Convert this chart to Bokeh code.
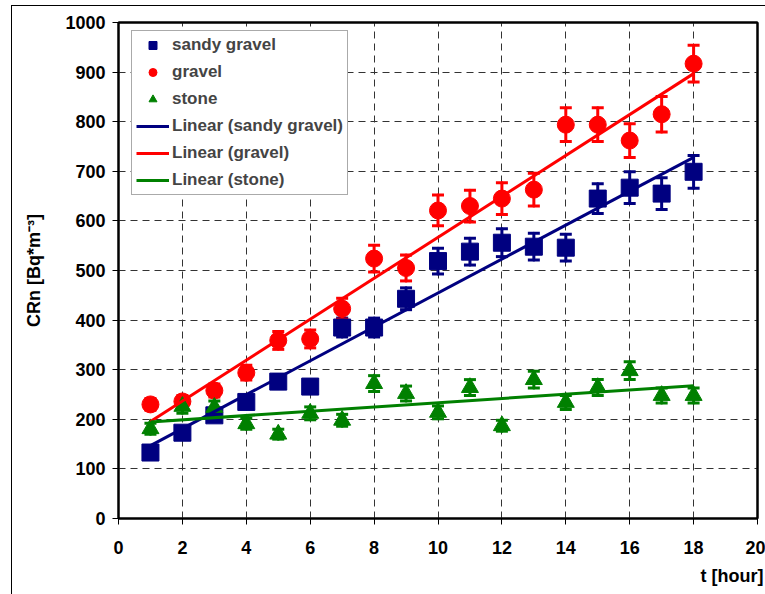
import numpy as np
from bokeh.plotting import figure
from bokeh.models import (ColumnDataSource, Whisker, TeeHead, Legend, LegendItem,
                          Title, FixedTicker, LinearAxis)
from bokeh.embed import file_html
from bokeh.resources import INLINE

# ---------------- data ----------------
hours = list(range(1, 19))
sandy_gravel = [133, 173, 208, 235, 276, 266, 385, 385, 443, 519, 538, 556, 548, 546, 645, 667, 655, 699]
sandy_err = [7, 9, 10, 12, 14, 13, 19, 19, 22, 26, 27, 28, 27, 27, 30, 32, 32, 33]
gravel = [230, 236, 258, 294, 359, 362, 423, 524, 505, 621, 630, 645, 663, 794, 794, 762, 815, 917]
gravel_err = [12, 12, 13, 15, 18, 18, 21, 27, 26, 31, 32, 32, 33, 34, 34, 34, 36, 37]
stone = [181, 226, 224, 191, 170, 212, 198, 272, 252, 214, 264, 187, 280, 234, 264, 298, 248, 248]
stone_err = [11, 14, 13, 11, 10, 13, 12, 16, 15, 13, 16, 11, 17, 14, 16, 18, 15, 15]

x_ticks = [0, 2, 4, 6, 8, 10, 12, 14, 16, 18, 20]
y_ticks = [0, 100, 200, 300, 400, 500, 600, 700, 800, 900, 1000]
series_names = ["sandy gravel", "gravel", "stone"]
colors = ["#000080", "#FF0000", "#008000"]
markers = ["square", "circle", "triangle"]
y_title = "CRn [Bq*m⁻³]"
x_title = "t [hour]"

FONT = "Liberation Sans"

p = figure(width=765, height=594, x_range=(0, 20), y_range=(0, 1000),
           output_backend="svg", toolbar_location=None,
           min_border_left=118, min_border_right=8, min_border_top=22, min_border_bottom=76)
p.background_fill_color = "white"
p.border_fill_color = None
p.outline_line_color = "black"
p.outline_line_width = 2
# outer chart-area border drawn behind the (transparent) canvas border
p.styles = {
    "background-color": "white",
    "background-image": "linear-gradient(#000,#000), linear-gradient(#000,#000)",
    "background-size": "1px 600px, 800px 1px",
    "background-position": "11px 5px, 11px 5px",
    "background-repeat": "no-repeat",
}

# axes
for ax in (p.xaxis, p.yaxis):
    ax.axis_line_width = 2
    ax.axis_line_color = "black"
    ax.major_tick_line_color = "black"
    ax.major_tick_line_width = 1
    ax.major_tick_out = 6
    ax.major_tick_in = 0
    ax.minor_tick_line_color = None
    ax.major_label_text_font = FONT
    ax.major_label_text_font_style = "bold"
    ax.major_label_text_font_size = "18px"
    ax.major_label_text_color = "black"
p.xaxis.ticker = FixedTicker(ticks=x_ticks)
p.yaxis.ticker = FixedTicker(ticks=y_ticks)
p.xaxis.major_label_standoff = 16
p.yaxis.major_label_standoff = 7
p.yaxis.axis_label = y_title
p.yaxis.axis_label_text_font = FONT
p.yaxis.axis_label_text_font_style = "bold"
p.yaxis.axis_label_text_font_size = "18px"
p.yaxis.axis_label_text_color = "black"
p.yaxis.axis_label_standoff = 18

# frame edges on the right and top
for side in ("right", "above"):
    a = LinearAxis(ticker=FixedTicker(ticks=[]), axis_line_width=2, axis_line_color="black",
                   major_tick_out=0, major_tick_in=0, minor_tick_out=0, minor_tick_in=0,
                   major_label_standoff=0)
    p.add_layout(a, side)

# x-axis title, right-aligned below
p.add_layout(Title(text=x_title, align="right", text_font=FONT, text_font_style="bold",
                   text_font_size="18px", text_color="black", offset=-6, standoff=15), "below")

# grid
p.grid.grid_line_color = "#333333"
p.grid.grid_line_dash = "7 5"
p.grid.grid_line_width = 1
p.xgrid.ticker = FixedTicker(ticks=x_ticks)
p.ygrid.ticker = FixedTicker(ticks=y_ticks)

values = [sandy_gravel, gravel, stone]
errors = [sandy_err, gravel_err, stone_err]
scatter_r = []
line_r = []
for vals, errs, col, mk in zip(values, errors, colors, markers):
    v = np.array(vals, dtype=float)
    e = np.array(errs, dtype=float)
    src = ColumnDataSource(dict(t=hours, v=vals, up=list(v + e), lo=list(v - e)))
    w = Whisker(source=src, base="t", upper="up", lower="lo",
                line_color=col, line_width=3, line_cap="round",
                upper_head=TeeHead(size=12, line_color=col, line_width=3),
                lower_head=TeeHead(size=12, line_color=col, line_width=3))
    p.add_layout(w)
    r = p.scatter("t", "v", source=src, marker=mk, size=17, fill_color=col, line_color=col)
    scatter_r.append(r)

for vals, col in zip(values, colors):
    k, b = np.polyfit(np.array(hours, dtype=float), np.array(vals, dtype=float), 1)
    tt = [hours[0], hours[-1]]
    lr = p.line(tt, [k * t + b for t in tt], line_color=col, line_width=3)
    line_r.append(lr)

items = [LegendItem(label=n, renderers=[r]) for n, r in zip(series_names, scatter_r)]
items += [LegendItem(label="Linear (%s)" % n, renderers=[r]) for n, r in zip(series_names, line_r)]
legend = Legend(items=items, location=(13, 323), padding=4, spacing=7,
                glyph_width=33, glyph_height=20, label_height=20, label_standoff=3,
                label_text_font=FONT, label_text_font_style="bold", label_text_font_size="17px",
                border_line_color="#555555", border_line_width=1,
                background_fill_color="white", background_fill_alpha=1, margin=0)
p.add_layout(legend)

open("out.html", "w").write(file_html(p, INLINE))
